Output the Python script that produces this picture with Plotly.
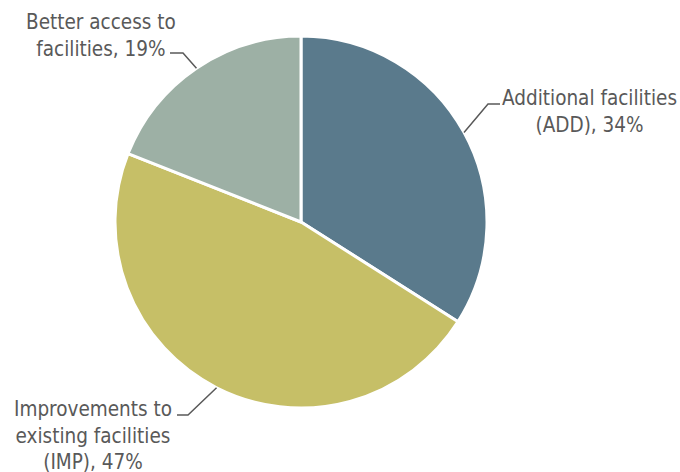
import math
import plotly.graph_objects as go

# Share of responses by type of facility improvement
labels = ["Additional facilities (ADD)", "Improvements to existing facilities (IMP)", "Better access to facilities"]
label_lines = [["Additional facilities", "(ADD), 34%"],
               ["Improvements to", "existing facilities", "(IMP), 47%"],
               ["Better access to", "facilities, 19%"]]
values = [34, 47, 19]
colors = ["#5a7a8c", "#c6bf67", "#9db0a5"]

W, H = 680, 472
# pie placement in pixels (centre and radius)
CX, CY, R = 301, 222, 186

# label layout: text centre, elbow point and end of the horizontal leader stroke
label_layout = [
    dict(text_xy=(589, 111), elbow=(488, 104), end=(500, 104)),
    dict(text_xy=(93, 435), elbow=(188, 415), end=(177, 415)),
    dict(text_xy=(101, 35), elbow=(183, 53), end=(170, 53)),
]

FONT = "DejaVu Sans Condensed, DejaVu Sans, sans-serif"
TEXT_COLOR = "#595959"


def px(x, y):
    return x / W, 1 - y / H


fig = go.Figure(go.Pie(
    labels=labels,
    values=values,
    sort=False,
    direction="clockwise",
    rotation=0,
    marker=dict(colors=colors, line=dict(color="white", width=3)),
    textinfo="none",
    hoverinfo="label+percent",
    domain=dict(x=[(CX - R) / W, (CX + R) / W], y=[1 - (CY + R) / H, 1 - (CY - R) / H]),
    showlegend=False,
))

total = sum(values)
cum = 0
shapes = []
annotations = []
for v, lines, lay in zip(values, label_lines, label_layout):
    mid = (cum + v / 2) / total * 2 * math.pi
    cum += v
    ex, ey = CX + R * math.sin(mid), CY - R * math.cos(mid)
    pts = [(ex, ey), lay["elbow"], lay["end"]]
    path = "M " + " L ".join(f"{px(x, y)[0]},{px(x, y)[1]}" for x, y in pts)
    shapes.append(dict(type="path", path=path, xref="paper", yref="paper",
                       line=dict(color=TEXT_COLOR, width=1.5)))
    tx, ty = px(*lay["text_xy"])
    annotations.append(dict(text="<br>".join(lines), x=tx, y=ty, xref="paper", yref="paper",
                            xanchor="center", yanchor="middle", showarrow=False, align="center",
                            font=dict(family=FONT, size=20.5, color=TEXT_COLOR)))

fig.update_layout(
    width=W, height=H,
    margin=dict(l=0, r=0, t=0, b=0),
    paper_bgcolor="white",
    plot_bgcolor="white",
    shapes=shapes,
    annotations=annotations,
)

fig.write_html("out.html")
